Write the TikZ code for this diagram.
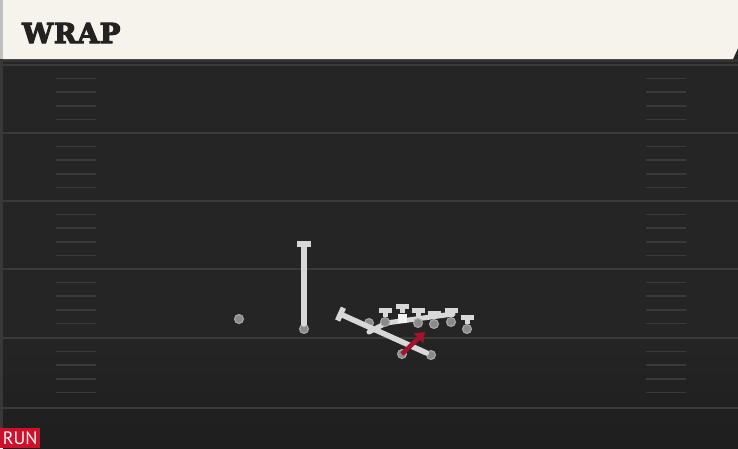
\documentclass[tikz,border=0pt]{standalone}
\usepackage{fontspec}
\setmainfont{DejaVu Serif}
\newfontfamily\titlefont[FakeBold=4,LetterSpace=3]{DejaVu Serif Bold}
\newfontfamily\tagfont{PT Sans}
\usetikzlibrary{arrows.meta}

\definecolor{field}{HTML}{252525}
\definecolor{fielddark}{HTML}{1E1E1E}
\definecolor{yardgray}{HTML}{3A3A3A}
\definecolor{headcream}{HTML}{F5F3EC}
\definecolor{headink}{HTML}{222222}
\definecolor{routegray}{HTML}{D8D8D8}
\definecolor{dotgray}{HTML}{8A8A8A}
\definecolor{dotrim}{HTML}{ABABAB}
\definecolor{runred}{HTML}{A3142C}
\definecolor{tagred}{HTML}{D0102A}

\tikzset{
  yardline/.style={draw=yardgray,line width=2pt},
  hashmark/.style={draw=yardgray,line width=1.6pt},
  player/.style={circle,fill=dotgray,draw=dotrim,line width=1pt,minimum size=9pt,inner sep=0pt},
  centerbox/.style={rectangle,fill=white!95!black,minimum size=9pt,inner sep=0pt},
  route/.style={draw=routegray,line width=5.5pt,line cap=round,-{Bar[width=14pt]}},
  block/.style={draw=routegray,line width=5pt,-{Bar[width=13pt]}},
  wrappath/.style={draw=routegray,line width=5pt,line cap=round,line join=round},
  carry/.style={draw=runred,line width=4.5pt,-{Triangle[width=13pt,length=9pt]}}
}

\begin{document}
\begin{tikzpicture}[x=1pt,y=-1pt]

  % field
  \useasboundingbox (0,0) rectangle (738,448);
  \fill[field] (0,0) rectangle (738,448);
  \shade[top color=field,bottom color=fielddark] (3,330) rectangle (738,448);
  \fill[black!80] (0,59) rectangle (738,62);
  \foreach \y in {65,133,201,269,338,408}
    \draw[yardline] (3,\y) -- (738,\y);
  \foreach \y in {65,133,201,269,338}
    \foreach \k in {1,...,4} {
      \draw[hashmark] (56,\y+13.6*\k) -- (96,\y+13.6*\k);
      \draw[hashmark] (646,\y+13.6*\k) -- (686,\y+13.6*\k);
    }
  \fill[black!78] (0,59) rectangle (3,448);

  % header
  \fill[headcream] (3,0) -- (738,0) -- (738,48) -- (733,59) -- (3,59) -- cycle;
  \fill[black!25] (0,0) rectangle (3,59);
  \node[anchor=base west,inner sep=0pt,text=headink,font=\titlefont\fontsize{27.5}{32}\selectfont]
    (title) at (22,43) {WRAP};

  % ends of the routes
  \coordinate (slotend) at (304,241);
  \coordinate (hbend)   at (338,313);
  \coordinate (wrapa)   at (369,332);
  \coordinate (wrapb)   at (386,323);
  \coordinate (wrapc)   at (453,314);
  \coordinate (rbend)   at (425,332);

  \draw[wrappath] (wrapa) -- (wrapb) -- (wrapc);

  % linemen
  \foreach \n/\x/\y/\h in {lt/385/322/14,rg/418/323/15,rt/434/324/13,te/451/322/14,tr/467/329/14} {
    \coordinate (\n top) at (\x,\y-\h);
    \node[player] (\n) at (\x,\y) {};
    \draw[block] (\n) -- (\n top);
  }
  \coordinate (ctop) at (402,304);
  \node[centerbox] (c) at (402,318) {};
  \draw[block] (c) -- (ctop);

  \begin{scope}[every node/.style={player}]
    \node (wr)   at (239,319) {};
    \node (slot) at (304,329) {};
    \node (qb)   at (369,323) {};
    \node (hb)   at (431,355) {};
    \node (rb)   at (402,354) {};
  \end{scope}

  \draw[route] (slot) -- (slotend);
  \draw[route] (hb) -- (hbend);
  \draw[carry] (rb.center) -- (rbend);

  % play type
  \node[fill=tagred,text=white,font=\tagfont\fontsize{18}{18}\selectfont,
    anchor=south west,inner sep=0pt,minimum width=40pt,minimum height=20pt] (tag) at (0,448) {RUN};

\end{tikzpicture}
\end{document}
